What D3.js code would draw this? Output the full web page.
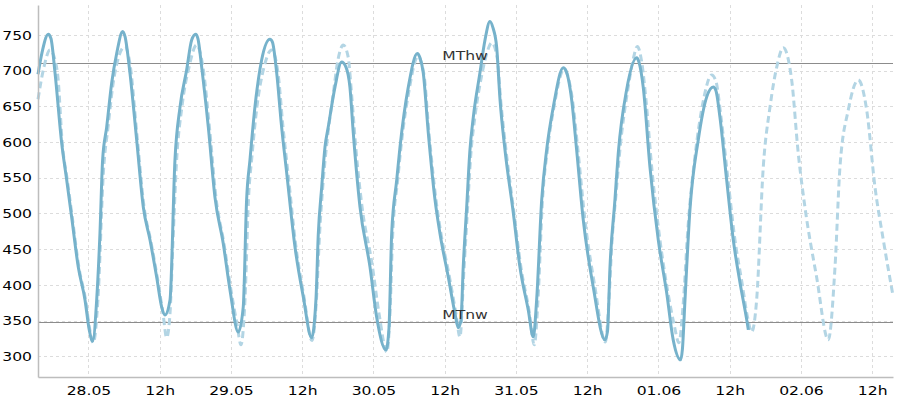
<!DOCTYPE html>
<meta charset="utf-8">
<style>
  body { margin: 0; background: #fff; }
  text { font-family: "DejaVu Sans", sans-serif; }
</style>
<svg id="chart" width="900" height="400"></svg>

<script src="https://cdn.jsdelivr.net/npm/d3@7"></script>
<script>

// measured water level (solid line)
var measured = [
  ["27.05 15:30", 695], ["27.05 16:10", 725], ["27.05 17:14", 751], ["27.05 17:41", 745],
  ["27.05 18:22", 697], ["27.05 19:29", 599], ["27.05 20:20", 547], ["27.05 21:10", 495],
  ["27.05 22:17", 425], ["27.05 23:25", 379], ["28.05 00:08", 337], ["28.05 00:42", 321],
  ["28.05 01:23", 379], ["28.05 01:56", 472], ["28.05 02:23", 575], ["28.05 03:04", 621],
  ["28.05 03:55", 683], ["28.05 04:45", 724], ["28.05 05:46", 755], ["28.05 06:09", 748],
  ["28.05 06:59", 697], ["28.05 08:07", 603], ["28.05 09:14", 509], ["28.05 10:22", 463],
  ["28.05 11:29", 411], ["28.05 12:20", 369], ["28.05 12:53", 358], ["28.05 13:44", 379],
  ["28.05 14:34", 575], ["28.05 15:25", 649], ["28.05 16:32", 701], ["28.05 17:23", 743],
  ["28.05 18:03", 751], ["28.05 18:26", 745], ["28.05 19:04", 705], ["28.05 20:11", 621],
  ["28.05 21:18", 523], ["28.05 22:42", 458], ["28.05 23:50", 393], ["29.05 01:14", 334],
  ["29.05 02:04", 369], ["29.05 02:38", 519], ["29.05 03:12", 575], ["29.05 04:02", 649],
  ["29.05 05:10", 715], ["29.05 06:34", 744], ["29.05 06:59", 740], ["29.05 07:42", 697],
  ["29.05 08:32", 621], ["29.05 09:23", 557], ["29.05 10:47", 453], ["29.05 12:11", 383],
  ["29.05 13:35", 326], ["29.05 14:19", 380], ["29.05 14:42", 470], ["29.05 15:17", 537],
  ["29.05 15:50", 593], ["29.05 16:23", 621], ["29.05 17:31", 677], ["29.05 18:38", 712],
  ["29.05 19:22", 705], ["29.05 20:02", 677], ["29.05 20:36", 613], ["29.05 21:44", 509],
  ["29.05 23:25", 425], ["30.05 00:32", 355], ["30.05 02:07", 309], ["30.05 02:37", 340],
  ["30.05 03:04", 472], ["30.05 03:55", 547], ["30.05 04:28", 593], ["30.05 05:52", 677],
  ["30.05 07:23", 724], ["30.05 07:50", 718], ["30.05 08:23", 697], ["30.05 09:14", 613],
  ["30.05 10:22", 519], ["30.05 11:12", 472], ["30.05 12:36", 411], ["30.05 13:44", 360],
  ["30.05 14:17", 340], ["30.05 14:44", 350], ["30.05 15:07", 425], ["30.05 15:42", 509],
  ["30.05 16:15", 589], ["30.05 16:49", 635], ["30.05 17:56", 697], ["30.05 18:47", 743],
  ["30.05 19:37", 769], ["30.05 20:08", 760], ["30.05 20:45", 733], ["30.05 21:19", 659],
  ["30.05 22:09", 589], ["30.05 23:33", 501], ["31.05 00:40", 425], ["31.05 02:04", 365],
  ["31.05 02:55", 327], ["31.05 03:29", 379], ["31.05 04:20", 519], ["31.05 05:10", 589],
  ["31.05 06:17", 649], ["31.05 07:58", 704], ["31.05 08:25", 700], ["31.05 09:23", 659],
  ["31.05 10:13", 589], ["31.05 11:20", 491], ["31.05 13:01", 397], ["31.05 14:59", 323],
  ["31.05 15:25", 335], ["31.05 15:50", 425], ["31.05 16:40", 519], ["31.05 17:14", 585],
  ["31.05 18:38", 673], ["31.05 20:20", 718], ["31.05 20:43", 712], ["31.05 21:26", 677],
  ["31.05 22:34", 565], ["31.05 23:58", 463], ["01.06 01:23", 389], ["01.06 02:29", 323],
  ["01.06 03:44", 295], ["01.06 04:02", 310], ["01.06 04:28", 379], ["01.06 05:18", 505],
  ["01.06 06:42", 603], ["01.06 08:07", 663], ["01.06 09:14", 677], ["01.06 09:41", 672],
  ["01.06 10:21", 635], ["01.06 11:29", 547], ["01.06 12:36", 463], ["01.06 13:44", 403],
  ["01.06 14:52", 351], ["01.06 15:08", 337]
]

// predicted water level (dashed line)
var predicted = [
  ["27.05 15:30", 660], ["27.05 16:30", 705], ["27.05 17:31", 729], ["27.05 18:22", 715],
  ["27.05 18:52", 690], ["27.05 19:35", 599], ["27.05 20:26", 547], ["27.05 21:16", 495],
  ["27.05 22:23", 425], ["27.05 23:31", 379], ["28.05 00:14", 337], ["28.05 00:49", 319],
  ["28.05 01:36", 380], ["28.05 02:32", 560], ["28.05 03:17", 620], ["28.05 04:18", 690],
  ["28.05 06:09", 734], ["28.05 06:59", 710], ["28.05 08:10", 610], ["28.05 09:21", 510],
  ["28.05 10:32", 460], ["28.05 11:42", 405], ["28.05 12:33", 360], ["28.05 13:10", 326],
  ["28.05 13:44", 360], ["28.05 14:14", 460], ["28.05 14:49", 570], ["28.05 15:45", 650],
  ["28.05 16:56", 705], ["28.05 18:13", 736], ["28.05 19:17", 705], ["28.05 20:23", 620],
  ["28.05 21:28", 523], ["28.05 22:49", 458], ["29.05 00:00", 393], ["29.05 01:01", 345],
  ["29.05 01:41", 316], ["29.05 02:22", 380], ["29.05 02:57", 520], ["29.05 03:32", 580],
  ["29.05 04:23", 650], ["29.05 05:34", 705], ["29.05 06:51", 729], ["29.05 07:55", 697],
  ["29.05 08:46", 621], ["29.05 09:36", 557], ["29.05 10:57", 453], ["29.05 12:18", 383],
  ["29.05 13:38", 322], ["29.05 14:24", 380], ["29.05 14:55", 470], ["29.05 15:29", 540],
  ["29.05 16:10", 600], ["29.05 17:11", 665], ["29.05 18:01", 715], ["29.05 18:55", 736],
  ["29.05 19:43", 720], ["29.05 20:23", 660], ["29.05 21:03", 590], ["29.05 22:04", 510],
  ["29.05 23:45", 430], ["30.05 00:56", 360], ["30.05 02:16", 306], ["30.05 02:47", 360],
  ["30.05 03:14", 470], ["30.05 04:05", 547], ["30.05 04:38", 593], ["30.05 05:59", 672],
  ["30.05 07:29", 720], ["30.05 08:30", 695], ["30.05 09:21", 613], ["30.05 10:32", 519],
  ["30.05 11:22", 472], ["30.05 12:48", 411], ["30.05 13:53", 360], ["30.05 14:34", 327],
  ["30.05 15:14", 420], ["30.05 15:50", 505], ["30.05 16:25", 585], ["30.05 17:05", 635],
  ["30.05 18:16", 695], ["30.05 19:07", 725], ["30.05 19:55", 739], ["30.05 20:48", 720],
  ["30.05 21:28", 655], ["30.05 22:19", 589], ["30.05 23:40", 501], ["31.05 00:50", 425],
  ["31.05 02:11", 365], ["31.05 03:05", 316], ["31.05 03:43", 380], ["31.05 04:28", 519],
  ["31.05 05:18", 589], ["31.05 06:24", 649], ["31.05 08:05", 702], ["31.05 09:31", 659],
  ["31.05 10:26", 589], ["31.05 11:37", 491], ["31.05 13:18", 397], ["31.05 15:04", 320],
  ["31.05 15:40", 380], ["31.05 16:10", 460], ["31.05 16:50", 525], ["31.05 17:31", 590],
  ["31.05 18:52", 675], ["31.05 19:43", 715], ["31.05 20:26", 734], ["31.05 21:13", 710],
  ["31.05 21:53", 660], ["31.05 22:55", 560], ["01.06 00:15", 463], ["01.06 01:36", 389],
  ["01.06 02:37", 345], ["01.06 03:27", 319], ["01.06 04:08", 370], ["01.06 04:58", 480],
  ["01.06 06:09", 580], ["01.06 07:29", 655], ["01.06 08:58", 694], ["01.06 09:41", 685],
  ["01.06 10:32", 635], ["01.06 11:43", 547], ["01.06 12:53", 463], ["01.06 14:04", 403],
  ["01.06 15:00", 355], ["01.06 15:42", 334], ["01.06 16:32", 379], ["01.06 17:39", 565],
  ["01.06 18:47", 649], ["01.06 19:55", 705], ["01.06 21:01", 732], ["01.06 22:26", 687],
  ["01.06 23:32", 585], ["02.06 00:40", 509], ["02.06 02:38", 411], ["02.06 04:36", 323],
  ["02.06 05:44", 425], ["02.06 06:34", 565], ["02.06 07:58", 645], ["02.06 09:39", 687],
  ["02.06 11:04", 645], ["02.06 12:28", 537], ["02.06 13:52", 463], ["02.06 15:30", 385]
]

// reference levels
var refNames = ["MThw", "MTnw"]
var refValues = [711, 348]

var yTicks = [300, 350, 400, 450, 500, 550, 600, 650, 700, 750]
var timeStart = "27.05 15:30"
var timeEnd = "02.06 15:30"

var parse = d3.timeParse("%Y %d.%m %H:%M")
function toDate(s) { return parse("2024 " + s) }

var svg = d3.select("#chart")
var plotLeft = 38, plotRight = 893, plotTop = 5, plotBottom = 377
var stretch = 1.2 // labels in the picture are wide

var x = d3.scaleTime()
    .domain([toDate(timeStart), toDate(timeEnd)])
    .range([plotLeft, plotRight])

var y = d3.scaleLinear()
    .domain([271, 792])
    .range([plotBottom, plotTop])

var xTicks = d3.timeHour.every(12).range(toDate(timeStart), toDate(timeEnd))

// grid
svg.append("g").selectAll("line")
  .data(yTicks)
  .enter().append("line")
  .attr("x1", plotLeft).attr("x2", plotRight)
  .attr("y1", function(d) { return Math.round(y(d)) + 0.5 })
  .attr("y2", function(d) { return Math.round(y(d)) + 0.5 })
  .style("stroke", "#dcdcdc")
  .style("stroke-dasharray", "3,3")

svg.append("g").selectAll("line")
  .data(xTicks)
  .enter().append("line")
  .attr("x1", function(d) { return Math.round(x(d)) + 0.5 })
  .attr("x2", function(d) { return Math.round(x(d)) + 0.5 })
  .attr("y1", plotTop).attr("y2", plotBottom)
  .style("stroke", "#dcdcdc")
  .style("stroke-dasharray", "3,3")

// reference lines
svg.append("g").selectAll("line")
  .data(refValues)
  .enter().append("line")
  .attr("x1", plotLeft).attr("x2", plotRight)
  .attr("y1", function(d) { return Math.round(y(d)) + 0.5 })
  .attr("y2", function(d) { return Math.round(y(d)) + 0.5 })
  .style("stroke", "#8c8c8c")
  .style("stroke-width", 1)

// lines
var line = d3.line()
    .x(function(d) { return x(toDate(d[0])) })
    .y(function(d) { return y(d[1]) })
    .curve(d3.curveMonotoneX)

svg.append("path")
  .datum(predicted)
  .attr("d", line)
  .style("fill", "none")
  .style("stroke", "#b3d5e4")
  .style("stroke-width", 3)
  .style("stroke-dasharray", "7,4")

svg.append("path")
  .datum(measured)
  .attr("d", line)
  .style("fill", "none")
  .style("stroke", "#76b2cb")
  .style("stroke-width", 3)
  .style("stroke-linejoin", "round")

svg.append("g").selectAll("text")
  .data(refNames)
  .enter().append("text")
  .attr("text-anchor", "middle")
  .attr("transform", function(d, i) {
    return "translate(465," + (Math.round(y(refValues[i])) - 3) + ") scale(" + stretch + ",1)"
  })
  .style("font-size", "13px")
  .style("fill", "#333")
  .text(function(d) { return d })

// axes
var fmtDay = d3.timeFormat("%d.%m")
var xAxis = d3.axisBottom(x)
    .tickValues(xTicks)
    .tickSize(0)
    .tickPadding(0)
    .tickFormat(function(d) { return d.getHours() === 0 ? fmtDay(d) : "12h" })

var gx = svg.append("g")
  .attr("transform", "translate(0," + plotBottom + ")")
  .call(xAxis)
gx.select(".domain").style("stroke", "#bdbdbd").style("stroke-width", 1.5)
gx.selectAll("text")
  .attr("y", 0).attr("dy", 0)
  .attr("transform", "translate(0,18) scale(" + stretch + ",1)")
  .style("font-size", "13px")
  .style("fill", "#000")

var yAxis = d3.axisLeft(y)
    .tickValues(yTicks)
    .tickSize(0)
    .tickPadding(0)

var gy = svg.append("g")
  .attr("transform", "translate(" + plotLeft + ",0)")
  .call(yAxis)
gy.select(".domain").style("stroke", "#bdbdbd").style("stroke-width", 1.5)
gy.selectAll("text")
  .attr("x", 0)
  .attr("transform", "translate(-6,0) scale(" + stretch + ",1)")
  .style("font-size", "13px")
  .style("fill", "#000")

</script>
